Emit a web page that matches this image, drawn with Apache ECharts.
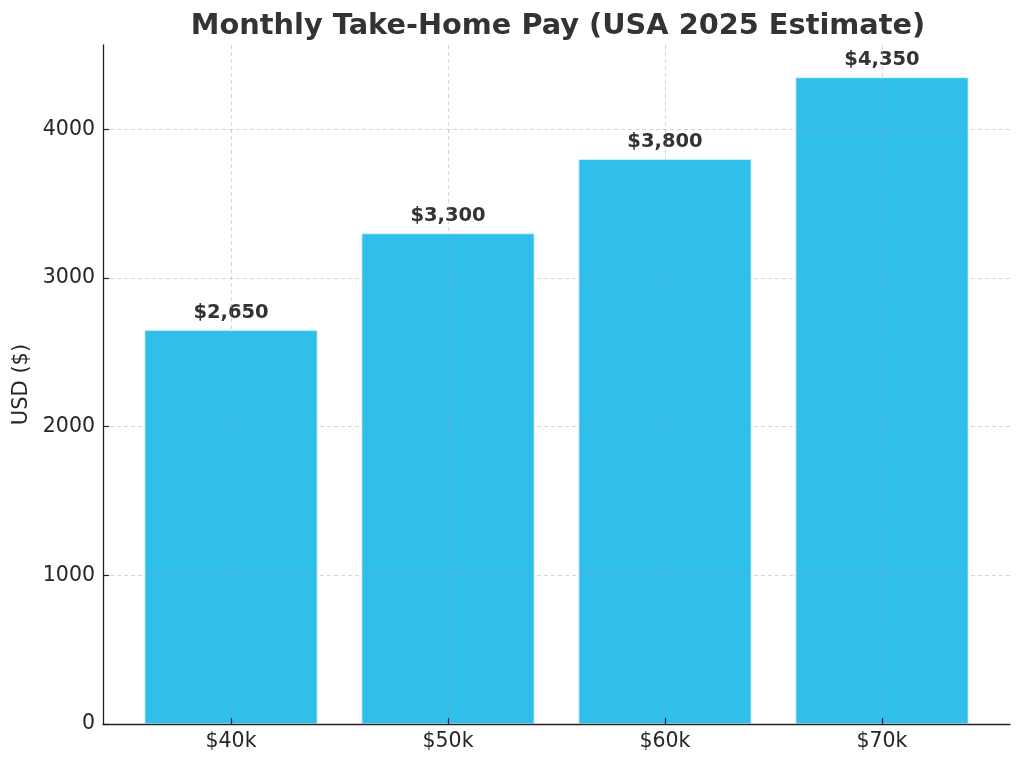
<!DOCTYPE html>
<html><head><meta charset="utf-8">
<script src="https://cdn.jsdelivr.net/npm/echarts@6/dist/echarts.min.js"></script>
<style>html,body{margin:0;padding:0;background:#fff}#c{width:1024px;height:765px}</style>
</head><body><div id="c"></div>
<script>
const categories = ['$40k', '$50k', '$60k', '$70k'];
const takeHome = [2650, 3300, 3800, 4350];
const yTicks = [0, 1000, 2000, 3000, 4000];
const xPositions = [0, 1, 2, 3];

const chart = echarts.init(document.getElementById('c'));
const font = 'DejaVu Sans';
const gridColor = 'rgba(150,150,150,0.4)';
chart.setOption({
  animation: false,
  title: {
    text: 'Monthly Take-Home Pay (USA 2025 Estimate)',
    left: 553, top: 7, textAlign: 'center',
    textStyle: { fontFamily: font, fontWeight: 'bold', fontSize: 28.8, color: '#333333' }
  },
  grid: { left: 103, right: 14, top: 45, bottom: 41, containLabel: false },
  xAxis: {
    type: 'value', min: -0.59, max: 3.59, z: 5,
    axisLine: { show: true, onZero: false, lineStyle: { color: '#222', width: 1.3 } },
    axisTick: { show: true, inside: true, customValues: xPositions, length: 6, lineStyle: { color: '#222', width: 1.2 } },
    axisLabel: { customValues: xPositions, formatter: v => categories[Math.round(v)], fontFamily: font, fontSize: 20.5, color: '#262626', margin: 7 },
    splitLine: { show: true, lineStyle: { type: [4, 3], color: gridColor, width: 1 } }
  },
  yAxis: {
    type: 'value', min: 0, max: 4567.5, z: 5,
    name: 'USD ($)', nameLocation: 'middle', nameGap: 69, nameRotate: 90,
    nameTextStyle: { fontFamily: font, fontSize: 21, color: '#262626' },
    axisLine: { show: true, onZero: false, lineStyle: { color: '#222', width: 1.3 } },
    axisTick: { show: true, inside: true, customValues: yTicks, length: 6, lineStyle: { color: '#222', width: 1.2 } },
    axisLabel: { customValues: yTicks, formatter: v => String(v), fontFamily: font, fontSize: 20.5, color: '#262626', margin: 8 },
    splitLine: { show: true, lineStyle: { type: [4, 3], color: gridColor, width: 1 } }
  },
  series: [{
    type: 'bar',
    data: takeHome.map((v, i) => [xPositions[i], v]),
    barWidth: 173,
    itemStyle: { color: '#30BEEA', borderColor: '#d8f2fb', borderWidth: 0.8 },
    label: {
      show: true, position: 'top', distance: 7,
      formatter: p => '$' + p.value[1].toLocaleString('en-US'),
      fontFamily: font, fontWeight: 'bold', fontSize: 19.5, color: '#333333'
    }
  }]
});
</script></body></html>
